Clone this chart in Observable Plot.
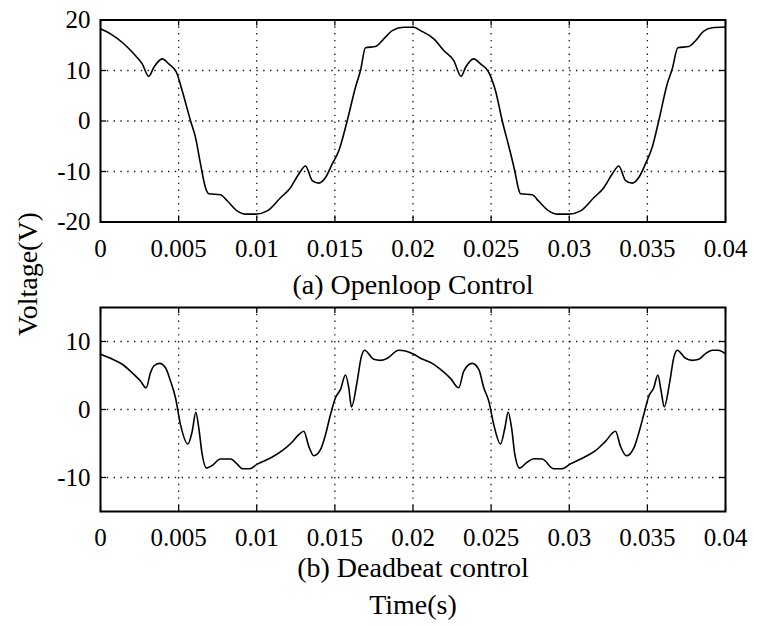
<!DOCTYPE html>
<html>
<head>
<meta charset="utf-8">
<script src="https://cdn.jsdelivr.net/npm/d3@7"></script>
<script src="https://cdn.jsdelivr.net/npm/@observablehq/plot@0.6"></script>
<style>
  html, body { margin: 0; padding: 0; background: #fff; }
  #root { position: relative; width: 764px; height: 626px; overflow: hidden; background: #fff;
          font-family: 'Liberation Serif', 'Times New Roman', serif; color: #000; }
  .panel { position: absolute; left: 0; }
  .cap { position: absolute; left: 0; width: 826px; text-align: center; font-size: 28px; line-height: 28px; white-space: nowrap; }
  .ylab { position: absolute; font-size: 28px; line-height: 28px; white-space: nowrap;
          transform: translate(-50%, -50%) rotate(-90deg); }
</style>
</head>
<body>
<div id="root">
  <div id="pa" class="panel" style="top:0"></div>
  <div class="cap" style="top:271px">(a) Openloop Control</div>
  <div id="pb" class="panel" style="top:265px"></div>
  <div class="cap" style="top:554px">(b) Deadbeat control</div>
  <div class="cap" style="top:591px">Time(s)</div>
  <div class="ylab" style="left:28px; top:274px">Voltage(V)</div>
</div>
<script>
// Shared x axis (time in seconds)
const xTicks = [0, 0.005, 0.01, 0.015, 0.02, 0.025, 0.03, 0.035, 0.04];
const xTickLabels = ["0", "0.005", "0.01", "0.015", "0.02", "0.025", "0.03", "0.035", "0.04"];

// (a) Openloop control — time in ms, voltage in V
const openT = [0, 0.64, 1.49, 2.13, 2.67, 3.09, 3.41, 3.95, 4.37, 4.86, 5.23, 5.76, 6.08, 6.40, 6.72, 6.93,
  7.68, 8.11, 8.75, 9.28, 9.92, 10.67, 11.52, 12.16, 12.69, 13.12, 13.55, 13.97, 14.40, 14.83, 15.25, 15.79,
  16.32, 16.64, 16.96, 17.60, 18.13, 18.67, 19.41, 20.05, 20.48, 21.33, 21.97, 22.61, 23.08, 23.36, 23.89,
  24.32, 24.85, 25.28, 25.71, 26.13, 26.52, 26.75, 26.88, 27.63, 28.05, 28.69, 29.23, 29.97, 30.72, 31.57,
  32.21, 32.75, 33.17, 33.60, 34.03, 34.45, 34.88, 35.31, 35.73, 36.27, 36.59, 36.95, 37.65, 38.08, 38.61,
  39.15, 39.94];
const openV = [18.25, 17.26, 15.3, 13.3, 11.3, 8.85, 10.6, 12.3, 11.3, 9.65, 6.0, 0.06, -3.25, -8.5, -13.2, -14.4,
  -14.6, -15.8, -17.8, -18.45, -18.45, -17.8, -15.2, -13.2, -10.5, -8.9, -11.8, -12.3, -11.2, -8.5, -5.9, 0.06,
  6.7, 10.0, 14.5, 14.74, 16.27, 17.9, 18.57, 18.57, 17.9, 16.27, 13.95, 11.96, 8.85, 10.6, 12.3,
  11.3, 9.65, 6.0, 0.06, -5.0, -10.0, -13.4, -14.4, -14.6, -15.9, -17.8, -18.45, -18.45, -17.8, -15.2,
  -13.2, -10.5, -8.9, -11.8, -12.3, -11.2, -8.5, -5.2, 0.06, 7.34, 10.3, 14.5, 14.74, 15.9, 17.8,
  18.45, 18.6];
const openYTicks = [-20, -10, 0, 10, 20];
const openYLabels = ["-20", "-10", "0", "10", "20"];

// (b) Deadbeat control — time in ms, voltage in V
const deadT = [0, 0.64, 1.39, 2.13, 2.56, 2.92, 3.20, 3.41, 3.78, 4.16, 4.48, 4.80, 5.12, 5.59, 5.87, 6.10, 6.29,
  6.51, 6.78, 7.15, 7.68, 8.32, 8.75, 9.07, 9.56, 10.03, 10.88, 11.63, 12.27, 12.69, 13.01, 13.33, 13.65,
  14.08, 14.40, 14.72, 15.04, 15.36, 15.68, 15.89, 16.06, 16.43, 16.68, 16.90, 17.49, 17.92, 18.35, 19.09,
  19.52, 20.05, 20.48, 21.23, 21.76, 22.40, 22.93, 23.25, 23.79, 24.21, 24.53, 24.85, 25.17, 25.60, 25.88,
  26.09, 26.31, 26.52, 26.82, 27.31, 27.73, 28.27, 29.01, 29.55, 30.08, 30.93, 31.68, 32.32, 32.96, 33.28,
  33.66, 34.13, 34.45, 34.77, 35.09, 35.41, 35.67, 35.88, 36.08, 36.44, 36.69, 36.91, 37.44, 37.87, 38.29,
  38.72, 39.15, 39.53, 39.94];
const deadV = [8.12, 7.53, 6.65, 5.17, 4.18, 3.19, 5.41, 6.4, 6.79, 6.15, 4.18, 1.72, -2.22, -5.08, -3.2, -0.4, -2.72,
  -6.65, -8.62, -8.23, -7.29, -7.29, -8.03, -8.72, -8.72, -8.03, -7.14, -6.06, -4.78, -3.7, -3.2, -5.42, -6.8,
  -5.91, -3.7, -0.74, 1.72, 2.95, 5.07, 3.19, 0.39, 4.18, 7.63, 8.71, 7.38, 7.23, 7.53, 8.71,
  8.6, 8.12, 7.53, 6.79, 5.9, 4.58, 3.19, 5.66, 6.79, 5.9, 3.19, 1.23, -2.22, -5.08, -2.72,
  -0.4, -2.72, -6.65, -8.62, -7.74, -7.24, -7.29, -8.72, -8.72, -8.0, -7.05, -6.06, -4.68, -3.2, -5.42,
  -6.8, -5.67, -3.45, -0.74, 1.96, 3.19, 5.07, 2.7, 0.39, 4.18, 7.63, 8.71, 7.53, 7.23, 7.38,
  8.22, 8.71, 8.71, 8.27];
const deadYTicks = [-10, 0, 10];
const deadYLabels = ["-10", "0", "10"];

const W = 764, ML = 100, MR = 39;
const FONT = "'Liberation Serif', 'Times New Roman', serif";

function panel({t, v, yDomain, yTicks, yLabels, height, marginTop, marginBottom}) {
  const frameH = height - marginTop - marginBottom;
  const frameW = W - ML - MR;
  const data = t.map((d, i) => ({t: d / 1000, v: v[i]}));
  const xInner = xTicks.slice(1, -1);
  const yInner = yTicks.filter(d => d > yDomain[0] && d < yDomain[1]);
  const dot = {stroke: "#000", strokeWidth: 1.3, strokeDasharray: "1.4,5.4", strokeOpacity: 0.9};
  const tick = {stroke: "#000", strokeWidth: 1.3};
  return Plot.plot({
    width: W, height, marginLeft: ML, marginRight: MR, marginTop, marginBottom,
    style: {fontFamily: FONT, fontSize: "25px", color: "#000", background: "transparent", overflow: "visible"},
    x: {domain: [0, 0.04]},
    y: {domain: yDomain},
    marks: [
      Plot.ruleX(xInner, {x: d => d, ...dot}),
      Plot.ruleY(yInner, {y: d => d, ...dot}),
      Plot.ruleX(xTicks, {x: d => d, insetTop: frameH - 6, ...tick}),
      Plot.ruleX(xTicks, {x: d => d, insetBottom: frameH - 6, ...tick}),
      Plot.ruleY(yTicks, {y: d => d, insetRight: frameW - 6, ...tick}),
      Plot.ruleY(yTicks, {y: d => d, insetLeft: frameW - 6, ...tick}),
      Plot.line(data, {x: "t", y: "v", stroke: "#000", strokeWidth: 1.6, curve: "monotone-x"}),
      Plot.frame({stroke: "#000", strokeWidth: 2}),
      Plot.axisX(xTicks, {tickSize: 0, tickPadding: 17, fontSize: 25, fontFamily: FONT,
        tickFormat: d => xTickLabels[xTicks.indexOf(d)], label: null}),
      Plot.axisY(yTicks, {tickSize: 0, tickPadding: 10, fontSize: 25, fontFamily: FONT,
        tickFormat: d => yLabels[yTicks.indexOf(d)], label: null})
    ]
  });
}

document.getElementById("pa").append(panel({
  t: openT, v: openV, yDomain: [-20, 20], yTicks: openYTicks, yLabels: openYLabels,
  height: 265, marginTop: 19.5, marginBottom: 43.5
}));
document.getElementById("pb").append(panel({
  t: deadT, v: deadV, yDomain: [-15, 15], yTicks: deadYTicks, yLabels: deadYLabels,
  height: 290, marginTop: 42, marginBottom: 44
}));
</script>
</body>
</html>
